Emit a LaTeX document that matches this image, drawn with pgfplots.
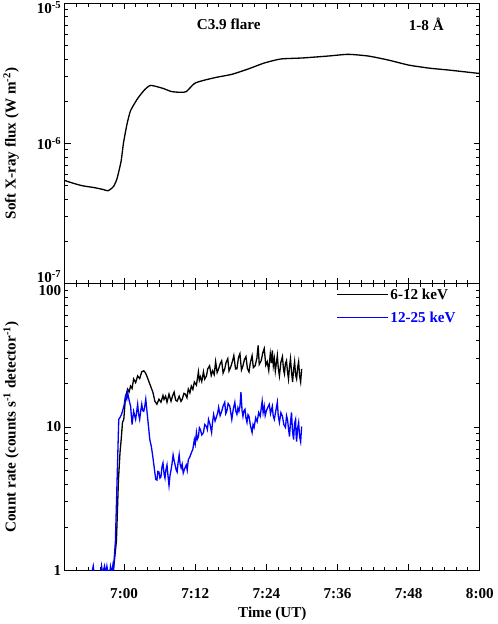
\documentclass[border=0pt]{standalone}
\usepackage{pgfplots}
\pgfplotsset{compat=1.18}
\usepackage{fontspec}
\setmainfont{Liberation Serif}
\definecolor{hxblue}{RGB}{0,0,255}

\pgfplotsset{
  panel/.style={
    scale only axis,
    width=410bp,
    xmin=-10, xmax=60,
    axis line style={line width=1.2pt},
    tick style={line width=1pt,black},
    tick align=inside,
    major tick length=6bp,
    minor tick length=3.5bp,
    xtick={0,12,24,36,48,60},
    minor xtick={-10,-8,...,60},
    xtick pos=both, ytick pos=both,
    tick label style={font=\fontsize{15}{18}\selectfont\bfseries},
    label style={font=\fontsize{15}{18}\selectfont\bfseries},
    ylabel style={at={(rel axis cs:0,0.5)}, anchor=center, yshift=53bp},
    clip=true,
  }
}

\begin{document}
\begin{tikzpicture}[font=\fontsize{15}{18}\selectfont\bfseries]
\begin{axis}[ymode=log, panel, name=top,
  height=277bp,
  ymin=1e-7, ymax=1e-5,
  ytick={1e-7,1e-6,1e-5},
  minor ytick={2e-7,3e-7,4e-7,5e-7,6e-7,7e-7,8e-7,9e-7,2e-6,3e-6,4e-6,5e-6,6e-6,7e-6,8e-6,9e-6},
  yticklabels={\raisebox{1bp}[0pt][0pt]{10\textsuperscript{-7}},10\textsuperscript{-6},\raisebox{-10bp}[0pt][0pt]{10\textsuperscript{-5}}},
  xticklabels={},
  ylabel={Soft X-ray flux (W m\textsuperscript{-2})},
]
\addplot[black, line width=1.3pt, smooth, tension=0.35] coordinates {
(-10,5.45e-7) (-8.5,5.2e-7) (-7,5.0e-7) (-5,4.85e-7) (-3.5,4.7e-7) (-2.7,4.61e-7)
(-1.8,4.93e-7) (-1.2,5.6e-7) (-0.5,7.5e-7) (-0.1,1.01e-6) (0.5,1.38e-6)
(1.1,1.72e-6) (2.3,2.10e-6) (3.5,2.43e-6) (4.5,2.60e-6) (6.5,2.48e-6)
(8,2.35e-6) (9.6,2.32e-6) (10.5,2.35e-6) (11.9,2.69e-6) (13.5,2.83e-6)
(15.6,2.97e-6) (18.2,3.12e-6) (20.9,3.40e-6) (23.6,3.75e-6) (26.4,4.01e-6)
(30.1,4.08e-6) (34.4,4.21e-6) (37.8,4.33e-6) (41.2,4.21e-6) (44.6,3.94e-6)
(48,3.63e-6) (51.5,3.45e-6) (54.9,3.34e-6) (60,3.16e-6)
};
\node[anchor=center] at (rel axis cs:0.395,0.924) {C3.9 flare};
\node[anchor=center] at (rel axis cs:0.871,0.924) {1-8 Å};
\end{axis}

\begin{axis}[ymode=log, panel,
  at={(top.south west)}, anchor=north west,
  height=283bp,
  ymin=1, ymax=100,
  ytick={1,10,100},
  minor ytick={2,3,4,5,6,7,8,9,20,30,40,50,60,70,80,90},
  yticklabels={1,10,\raisebox{-12bp}[0pt][0pt]{100}},
  xticklabels={7:00,7:12,7:24,7:36,7:48,8:00},
  xticklabel style={yshift=-14bp},
  xlabel={Time (UT)},
  xlabel style={at={(rel axis cs:0.5,0)}, anchor=center, yshift=-43bp},
  ylabel={Count rate (counts s\textsuperscript{-1} detector\textsuperscript{-1})},
  legend style={draw=none, fill=none, at={(rel axis cs:0.655,0.99)}, anchor=north west,
    row sep=7bp, inner sep=0pt, font=\fontsize{15}{18}\selectfont\bfseries},
  legend cell align=left,
  legend image code/.code={\draw[#1, line width=1pt] (0bp,0bp) -- (50bp,0bp);},
]
\addplot[black, line width=1.3pt] coordinates {
(-2.0,0.9) (-1.8,1.0) (-1.29,1.6) (-0.95,4.26) (-0.69,6.60) (-0.49,8.16)
(-0.27,10.76) (-0.05,11.3) (0.24,16.16) (0.59,18.41) (0.85,17.6) (1.10,19.32)
(1.35,18.6) (1.61,21.66) (1.95,20.4) (2.29,22.74) (2.63,21.8) (2.98,24.27)
(3.32,24.67) (3.6,23.9) (3.83,22.74) (4.34,19.96) (4.85,17.53) (5.20,15.14)
(5.54,14.42) (5.88,15.64) (6.22,14.90) (6.56,16.6) (6.73,15.6) (7.0,16.43)
(7.24,14.90) (7.58,16.97) (7.92,15.14) (8.2,16.6) (8.44,17.53) (8.7,15.4)
(8.95,15.14) (9.29,16.43) (9.6,15.1) (9.81,15.64) (10.1,17.2) (10.32,16.97)
(10.6,16.0) (10.83,18.41) (11.1,17.3) (11.34,19.32) (11.6,18.3) (11.85,20.63)
(12.2,19.6) (12.54,24.27) (12.7,21.2) (12.88,22.38) (13.1,20.8) (13.39,24.27)
(13.6,21.6) (13.90,22.74) (14.1,25.4) (14.42,26.77) (14.7,22.9) (14.93,24.67)
(15.2,23.2) (15.44,28.57) (15.7,24.0) (15.95,25.49) (16.2,27.6) (16.46,29.04)
(16.7,23.8) (16.98,25.49) (17.2,28.2) (17.49,30.0) (17.7,24.6) (18.00,26.34)
(18.3,29.0) (18.51,31.5) (18.8,25.4) (19.03,25.49) (19.3,30.6) (19.54,32.5)
(19.8,25.0) (20.05,26.77) (20.3,29.6) (20.56,30.99) (20.8,25.6) (21.07,24.27)
(21.3,28.2) (21.59,31.5) (21.8,26.0) (22.10,26.77) (22.4,30.2) (22.61,37.1)
(22.8,27.4) (23.12,29.04) (23.4,33.0) (23.64,35.3) (23.9,27.0) (24.15,28.57)
(24.4,24.8) (24.66,32.5) (24.85,28.0) (25.00,34.2) (25.17,26.77) (25.34,30.0)
(25.51,24.6) (25.85,31.5) (26.0,26.0) (26.20,22.74) (26.45,28.4) (26.71,30.99)
(26.9,25.0) (27.05,23.49) (27.2,27.6) (27.39,29.04) (27.55,24.6) (27.73,21.66)
(27.9,26.4) (28.07,30.0) (28.25,24.0) (28.42,20.63) (28.6,25.4) (28.76,28.57)
(28.93,23.0) (29.10,21.66) (29.27,26.0) (29.44,28.57) (29.6,22.8) (29.78,20.63)
(29.95,25.49)
};
\addlegendentry{6-12 keV}
\addplot[hxblue, line width=1.3pt] coordinates {
(-5.6,0.9) (-5.2,1.07) (-5.0,0.9) (-4.0,0.9) (-3.8,1.07) (-3.6,0.95) (-3.3,1.07)
(-3.1,0.95) (-2.9,1.07) (-2.7,0.95) (-2.5,0.9) (-2.3,1.06) (-2.1,0.95) (-1.9,1.08)
(-1.8,1.0) (-1.46,1.6) (-0.90,11.3) (-0.68,11.67) (-0.45,12.2) (-0.27,12.87)
(0.0,14.2) (0.24,16.43) (0.45,15.6) (0.59,17.53) (0.85,15.4) (1.10,13.96)
(1.35,10.42) (1.61,12.87) (1.95,11.3) (2.1,12.6) (2.29,14.42) (2.45,12.3)
(2.63,11.3) (2.8,12.9) (2.98,14.42) (3.15,13.0) (3.32,12.87) (3.5,14.0)
(3.66,15.64) (3.85,13.0) (4.00,11.3) (4.34,8.16) (4.6,7.3) (4.85,6.19)
(5.20,4.77) (5.35,4.3) (5.54,4.26) (5.7,4.9) (5.88,4.85) (6.05,4.4) (6.22,4.5)
(6.4,5.3) (6.56,5.61) (6.75,4.7) (6.90,4.4) (7.05,5.0) (7.24,5.43) (7.4,4.6)
(7.58,3.9) (7.75,4.6) (7.92,5.01) (8.1,5.6) (8.27,6.39) (8.45,5.8) (8.61,5.43)
(8.8,5.0) (8.95,4.85) (9.1,5.6) (9.29,6.39) (9.45,5.5) (9.63,5.17) (9.8,5.5)
(9.98,4.77) (10.2,5.1) (10.49,5.43) (10.65,5.0) (10.83,5.89) (11.1,6.2)
(11.34,6.60) (11.6,7.0) (11.85,8.16) (12.0,7.6) (12.20,9.15) (12.35,8.2)
(12.54,8.57) (12.7,9.9) (12.88,9.60) (13.1,8.8) (13.39,9.15) (13.6,10.4)
(13.90,10.08) (14.05,9.6) (14.24,11.3) (14.5,10.4) (14.76,9.15) (14.9,10.6)
(15.10,12.25) (15.35,11.0) (15.61,11.87) (15.8,12.6) (15.95,13.73) (16.2,12.0)
(16.46,12.87) (16.7,14.0) (16.98,14.90) (17.15,12.4) (17.32,12.87) (17.55,14.6)
(17.83,13.96) (18.0,12.6) (18.17,11.3) (18.4,13.2) (18.68,14.90) (18.85,12.9)
(19.03,12.25) (19.2,13.6) (19.37,12.87) (19.55,14.0) (19.71,17.53) (19.9,13.0)
(20.05,11.87) (20.2,12.9) (20.39,13.30) (20.55,11.6) (20.73,10.76) (20.9,12.2)
(21.07,11.87) (21.3,10.3) (21.59,9.15) (21.75,10.4) (21.93,9.92) (22.2,11.6)
(22.44,10.9) (22.7,12.6) (22.95,11.87) (23.1,13.2) (23.29,15.14) (23.45,12.6)
(23.64,13.96) (23.8,12.0) (23.98,12.87) (24.2,13.6) (24.49,14.42) (24.7,12.4)
(25.00,13.96) (25.15,12.0) (25.34,11.3) (25.6,13.0) (25.85,14.90) (26.0,12.0)
(26.20,10.76) (26.45,12.6) (26.71,11.87) (26.95,10.4) (27.22,9.92) (27.4,12.0)
(27.56,11.3) (27.75,9.6) (27.90,8.57) (28.07,10.8) (28.24,12.66) (28.4,9.4)
(28.59,8.16) (28.75,10.6) (28.93,11.3) (29.0,9.0) (29.10,7.90) (29.27,9.8)
(29.44,10.76) (29.6,8.6) (29.78,7.90) (29.95,10.08)
};
\addlegendentry{\textcolor{hxblue}{12-25 keV}}
\end{axis}
\end{tikzpicture}
\end{document}
